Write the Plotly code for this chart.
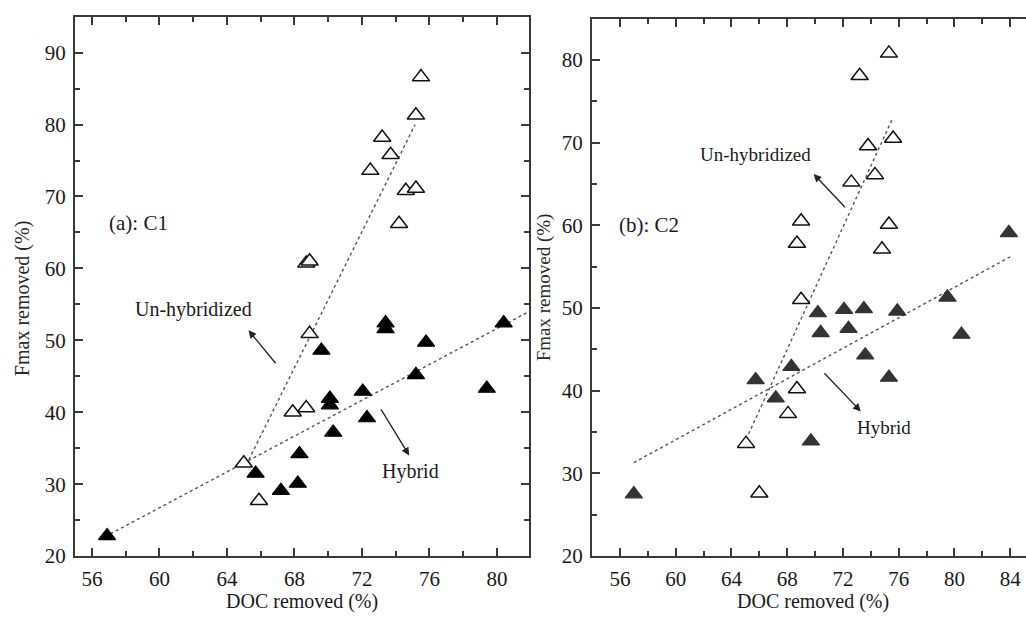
import plotly.graph_objects as go

# ---------------- data: panel (a) C1 ----------------
a_unhyb_x = [75.5, 75.2, 73.2, 73.7, 72.5, 74.6, 75.2, 74.2, 68.7, 68.9, 68.9, 67.9, 68.7, 65.0, 65.9]
a_unhyb_y = [86.6, 81.3, 78.2, 75.8, 73.6, 70.8, 71.1, 66.2, 60.7, 61.0, 50.9, 40.0, 40.6, 32.9, 27.7]
a_hyb_x = [56.9, 65.7, 67.2, 68.2, 68.3, 70.3, 70.1, 70.1, 72.3, 72.05, 69.6, 73.4, 73.4, 75.8, 75.2, 79.4, 80.4]
a_hyb_y = [22.8, 31.5, 29.1, 30.1, 34.2, 37.2, 41.0, 41.9, 39.2, 42.9, 48.6, 52.4, 51.6, 49.7, 45.2, 43.3, 52.4]
a_unhyb_fit_x = [65.3, 75.15]
a_unhyb_fit_y = [33.4, 80.0]
a_hyb_fit_x = [57.1, 81.9]
a_hyb_fit_y = [23.1, 54.0]

# ---------------- data: panel (b) C2 ----------------
b_unhyb_x = [75.3, 73.2, 73.8, 75.6, 72.6, 74.3, 69.0, 68.7, 75.3, 74.8, 69.0, 68.7, 68.06, 65.05, 66.0]
b_unhyb_y = [80.8, 78.1, 69.6, 70.5, 65.2, 66.1, 60.5, 57.8, 60.1, 57.1, 51.0, 40.2, 37.2, 33.6, 27.6]
b_hyb_x = [57.0, 65.74, 67.18, 68.3, 69.7, 70.2, 70.4, 72.08, 72.4, 73.5, 73.6, 75.3, 75.9, 79.5, 80.5, 83.9]
b_hyb_y = [27.5, 41.3, 39.1, 42.9, 33.9, 49.4, 47.0, 49.8, 47.5, 49.9, 44.3, 41.6, 49.6, 51.3, 46.8, 59.1]
b_unhyb_fit_x = [65.05, 75.55]
b_unhyb_fit_y = [34.1, 72.9]
b_hyb_fit_x = [57.0, 84.0]
b_hyb_fit_y = [31.3, 56.2]

x_title = "DOC removed (%)"
y_title = "Fmax removed (%)"
FONT = "Liberation Serif, Times New Roman, serif"
TXT = "#1a1a1a"
AXC = "#3a3a3a"

fig = go.Figure()

def add_panel(xa, ya, ux, uy, hx, hy, ufx, ufy, hfx, hfy, fillc):
    fig.add_trace(go.Scatter(x=ufx, y=ufy, mode="lines", xaxis=xa, yaxis=ya,
                             line=dict(color="#555555", width=1.4, dash="dot"), showlegend=False))
    fig.add_trace(go.Scatter(x=hfx, y=hfy, mode="lines", xaxis=xa, yaxis=ya,
                             line=dict(color="#555555", width=1.4, dash="dot"), showlegend=False))
    fig.add_trace(go.Scatter(x=ux, y=uy, mode="markers", xaxis=xa, yaxis=ya,
                             marker=dict(symbol="triangle-up", size=15, color="white",
                                         line=dict(color="#111111", width=1.5)), showlegend=False))
    fig.add_trace(go.Scatter(x=hx, y=hy, mode="markers", xaxis=xa, yaxis=ya,
                             marker=dict(symbol="triangle-up", size=15, color=fillc,
                                         line=dict(color=fillc, width=1.2)), showlegend=False))

add_panel("x", "y", a_unhyb_x, a_unhyb_y, a_hyb_x, a_hyb_y,
          a_unhyb_fit_x, a_unhyb_fit_y, a_hyb_fit_x, a_hyb_fit_y, "#000000")
add_panel("x2", "y2", b_unhyb_x, b_unhyb_y, b_hyb_x, b_hyb_y,
          b_unhyb_fit_x, b_unhyb_fit_y, b_hyb_fit_x, b_hyb_fit_y, "#333333")

W, H = 1026, 624
def px(x):
    return x / W
def py(y):
    return 1 - y / H

axis_common = dict(showgrid=False, zeroline=False, showline=True, linecolor=AXC, linewidth=2,
                   ticks="inside", ticklen=8, tickwidth=2, tickcolor=AXC,
                   tickfont=dict(family=FONT, size=21, color=TXT))

fig.update_layout(
    width=W, height=H, margin=dict(l=0, r=0, t=0, b=0),
    paper_bgcolor="white", plot_bgcolor="white",
    xaxis=dict(**axis_common, domain=[px(75), px(529)], range=[55, 81.9], dtick=4, tick0=0,
               mirror="ticks", anchor="y", ticklabelstandoff=3,
               minor=dict(ticks="inside", ticklen=5, tickwidth=2, tickcolor=AXC, dtick=2, tick0=0)),
    yaxis=dict(**axis_common, domain=[py(567), py(17)], range=[20, 95], dtick=10, tick0=0,
               mirror="ticks", anchor="x", ticklabelstandoff=3,
               minor=dict(ticks="inside", ticklen=5, tickwidth=2, tickcolor=AXC, dtick=5, tick0=0)),
    xaxis2=dict(**axis_common, domain=[px(592), 1.0], range=[54, 85.13], dtick=4, tick0=0,
                mirror="ticks", anchor="y2", ticklabelstandoff=3,
                minor=dict(ticks="inside", ticklen=5, tickwidth=2, tickcolor=AXC, dtick=2, tick0=0)),
    yaxis2=dict(**axis_common, domain=[py(567), py(19)], range=[20, 85], dtick=10, tick0=0,
                mirror=False, anchor="x2", ticklabelstandoff=3,
                minor=dict(ticks="inside", ticklen=5, tickwidth=2, tickcolor=AXC, dtick=5, tick0=0)),
)

ann = []
# axis titles
ann.append(dict(text=x_title, xref="paper", yref="paper", x=px(302), y=py(613), showarrow=False,
                font=dict(family=FONT, size=20, color=TXT), xanchor="center", yanchor="middle"))
ann.append(dict(text=x_title, xref="paper", yref="paper", x=px(813), y=py(613), showarrow=False,
                font=dict(family=FONT, size=20, color=TXT), xanchor="center", yanchor="middle"))
ann.append(dict(text=y_title, xref="paper", yref="paper", x=px(22), y=py(304), showarrow=False,
                textangle=-90, font=dict(family=FONT, size=20, color="#2a2a2a"),
                xanchor="center", yanchor="middle"))
ann.append(dict(text=y_title, xref="paper", yref="paper", x=px(544), y=py(293), showarrow=False,
                textangle=-90, font=dict(family=FONT, size=19, color="#2a2a2a"),
                xanchor="center", yanchor="middle"))

# panel labels
ann.append(dict(text="(a): C1", xref="x", yref="y", x=56.9, y=66.3, showarrow=False,
                xanchor="left", yanchor="middle", font=dict(family=FONT, size=21, color=TXT)))
ann.append(dict(text="(b): C2", xref="x2", yref="y2", x=55.8, y=60.0, showarrow=False,
                xanchor="left", yanchor="middle", font=dict(family=FONT, size=21, color=TXT)))
# series labels
ann.append(dict(text="Un-hybridized", xref="x", yref="y", x=62.0, y=54.3, showarrow=False,
                font=dict(family=FONT, size=20, color=TXT)))
ann.append(dict(text="Hybrid", xref="x", yref="y", x=74.86, y=31.7, showarrow=False,
                font=dict(family=FONT, size=20, color=TXT)))
ann.append(dict(text="Un-hybridized", xref="x2", yref="y2", x=65.74, y=68.6, showarrow=False,
                font=dict(family=FONT, size=19, color=TXT)))
ann.append(dict(text="Hybrid", xref="x2", yref="y2", x=74.95, y=35.6, showarrow=False,
                font=dict(family=FONT, size=19, color=TXT)))
# arrows
arrows = [
    ("x", "y", 66.96, 46.6, 65.28, 51.4),
    ("x", "y", 73.08, 40.6, 74.8, 34.0),
    ("x2", "y2", 72.25, 62.0, 69.9, 66.2),
    ("x2", "y2", 70.57, 42.3, 73.28, 37.5),
]
for xr, yr, tx, ty, hx, hy in arrows:
    ann.append(dict(text="", xref=xr, yref=yr, axref=xr, ayref=yr, x=hx, y=hy, ax=tx, ay=ty,
                    showarrow=True, arrowhead=2, arrowsize=1.2, arrowwidth=1.3, arrowcolor="#222222"))

fig.update_layout(annotations=ann)

fig.write_html("out.html")
